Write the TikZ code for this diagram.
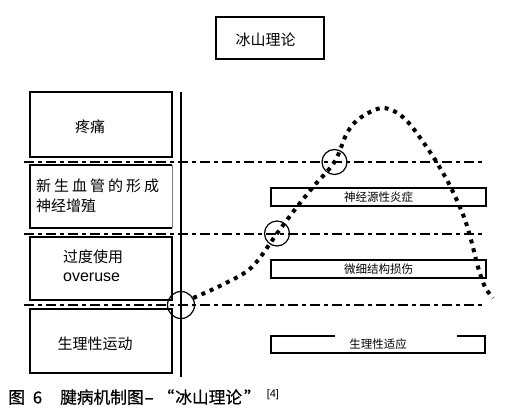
\documentclass[tikz,border=0pt]{standalone}
\usepackage{fontspec}
\setmainfont{Liberation Sans}
\newfontfamily\cjk{Noto Sans CJK SC}
\newfontfamily\cjkwide[LetterSpace=20]{Noto Sans CJK SC}
\newfontfamily\cjkcap[FakeBold=0.6]{Noto Sans CJK SC}

\begin{document}
\begin{tikzpicture}[x = 1pt, y = -1pt,
    box/.style = {shape = rectangle, draw, line width = 1.8pt, inner sep = 0pt},
    word/.style = {inner sep = 0pt, font = \cjk\fontsize{15}{20}\selectfont},
    tag/.style = {inner sep = 0pt, font = \cjk\fontsize{11.5}{12}\selectfont},
    level/.style = {line width = 2pt, dash pattern = on 10pt off 4pt on 4pt off 4pt},
    spot/.style = {shape = circle, draw, line width = 1.2pt, inner sep = 0pt, minimum size = 25pt}]
    \useasboundingbox (0,0) rectangle (528,418);

    \node [box, line width = 1.6pt, minimum width = 108pt, minimum height = 42pt] (T) at (270,38) {};
    \node [word] (t) at (265.5,40) {冰山理论};

    \node [box, minimum width = 142pt, minimum height = 65pt] (A) at (101,124.5) {};
    \node [minimum width = 142pt, minimum height = 63pt, inner sep = 0pt] (B) at (101,196.5) {};
    \draw [line width = 1.8pt] (B.north east) -- (B.north west) -- (B.south west) -- (B.south east);
    \draw [line width = 0.7pt, gray] (B.north east) -- (B.south east);
    \node [box, minimum width = 142pt, minimum height = 63pt] (C) at (101,268.5) {};
    \node [box, minimum width = 142pt, minimum height = 64pt] (D) at (101,341) {};

    \node [word] (a) at (90,127) {疼痛};
    \node [word, anchor = north west, align = left] (b) at (36,179) {{\cjkwide 新生血管的形成}\\神经增殖};
    \node [word, anchor = west] (c) at (63,256.5) {过度使用};
    \node [anchor = west, inner sep = 0pt, font = \fontsize{16}{18}\selectfont] (o) at (63,277) {overuse};
    \node [word] (d) at (95,343.5) {生理性运动};

    \draw [level] (24,162) -- (483,162);
    \draw [level] (24,233.5) -- (483,233.5);
    \draw [level, line width = 2.4pt] (24,305) -- (483,305);
    \draw [line width = 1.8pt] (181,92) -- (181,377);

    \node [box, tag, line width = 2pt, minimum width = 215pt, minimum height = 18pt] (E) at (378.5,197) {神经源性炎症};
    \node [box, tag, line width = 2pt, minimum width = 215pt, minimum height = 18pt] (F) at (378.5,269) {微细结构损伤};
    \node [tag, minimum width = 214pt, minimum height = 17pt] (G) at (378,344.5) {生理性适应};
    \draw [line width = 2pt] ([xshift = 64pt]G.north west) -- (G.north west) -- (G.south west)
        -- (G.south east) -- (G.north east) -- ([xshift = -28pt]G.north east);

    \node [spot, minimum size = 27pt] (P) at (181,305) {};
    \node [spot] (Q) at (277,233.5) {};
    \node [spot] (R) at (334.5,162) {};

    \draw [line width = 4pt, dash pattern = on 4pt off 5pt]
        plot [smooth, tension = 0.55] coordinates {(P.30) (224,284) (252,267) (Q) (293,212) (313,187) (R)
        (347,133) (360,118) (383,108) (405,119) (430,152) (448,182) (462,212) (470,236) (478,267) (485,287) (493,298)};

    \node [anchor = west, inner sep = 0pt, font = \cjkcap\fontsize{16.7}{18}\selectfont] (cap) at (8,397)
        {图\hspace{8pt}6\hspace{18pt}腱病机制图\hspace{1pt}–\hspace{4pt}“\hspace{1pt}冰山理论\hspace{2pt}”\hspace{6pt}\textsuperscript{\normalfont\fontsize{11}{12}\selectfont [4]}};
\end{tikzpicture}
\end{document}
